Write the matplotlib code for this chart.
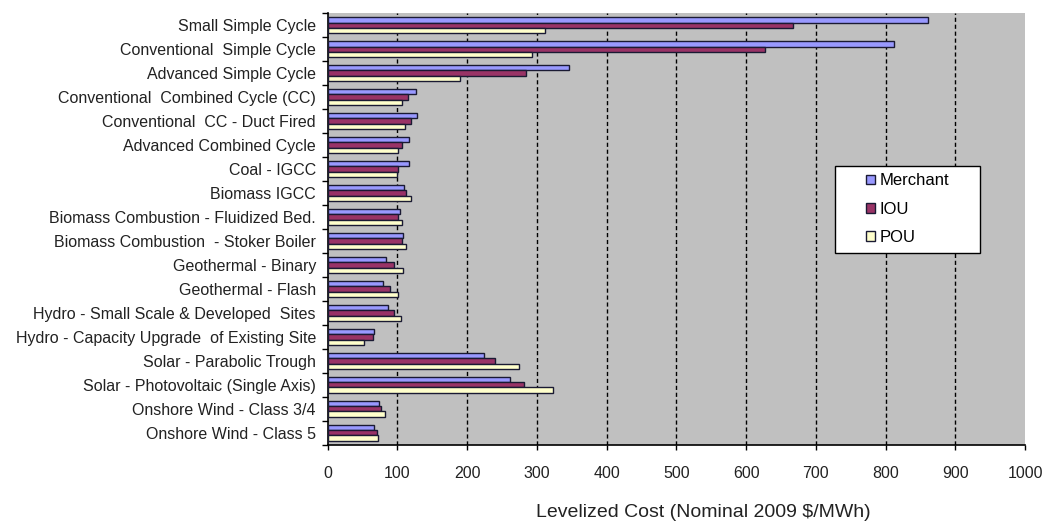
import matplotlib.pyplot as plt
import numpy as np

plt.rcParams['font.family'] = ['Liberation Sans', 'DejaVu Sans']

technologies = [
    'Small Simple Cycle',
    'Conventional  Simple Cycle',
    'Advanced Simple Cycle',
    'Conventional  Combined Cycle (CC)',
    'Conventional  CC - Duct Fired',
    'Advanced Combined Cycle',
    'Coal - IGCC',
    'Biomass IGCC',
    'Biomass Combustion - Fluidized Bed.',
    'Biomass Combustion  - Stoker Boiler',
    'Geothermal - Binary',
    'Geothermal - Flash',
    'Hydro - Small Scale & Developed  Sites',
    'Hydro - Capacity Upgrade  of Existing Site',
    'Solar - Parabolic Trough',
    'Solar - Photovoltaic (Single Axis)',
    'Onshore Wind - Class 3/4',
    'Onshore Wind - Class 5',
]

# levelized cost, nominal 2009 $/MWh
merchant = [861, 812, 346, 126, 128, 116, 117, 110, 104, 108, 83, 80, 87, 67, 224, 262, 73, 67]
iou = [667, 627, 284, 115, 119, 106, 101, 112, 101, 107, 95, 89, 95, 65, 240, 281, 77, 70]
pou = [311, 293, 189, 106, 111, 101, 100, 119, 107, 112, 108, 101, 105, 52, 274, 323, 82, 72]

series = [('Merchant', merchant, '#9999ff'),
          ('IOU', iou, '#993366'),
          ('POU', pou, '#ffffcc')]

fig = plt.figure(figsize=(10.47, 5.27), dpi=100)
ax = fig.add_axes([0.313, 0.156, 0.666, 0.819])
ax.set_facecolor('#c0c0c0')

y = np.arange(len(technologies))
h = 0.22
for i, (name, vals, color) in enumerate(series):
    ax.barh(y + (i - 1) * h, vals, height=h, color=color,
            edgecolor='#1a1a33', linewidth=1.0, label=name, zorder=3)

ax.set_xlim(0, 1000)
ax.set_ylim(len(technologies) - 0.5, -0.5)
ax.set_xticks(np.arange(0, 1001, 100))
ax.set_yticks(y)
ax.set_yticklabels(technologies, fontsize=11.5, color='#222222')
ax.set_yticks(np.arange(-0.5, len(technologies), 1), minor=True)
ax.tick_params(axis='y', which='major', length=0, pad=8.5)
ax.tick_params(axis='y', which='minor', length=4, width=1, color='black')
ax.tick_params(axis='x', length=3.6, width=1, labelsize=11.5, pad=11.5,
               labelcolor='#222222')

for x in range(100, 1000, 100):
    ax.axvline(x, color='black', linestyle=(0, (3, 2)), linewidth=1.0, zorder=1)

for side in ['top', 'right']:
    ax.spines[side].set_visible(False)
ax.spines['left'].set_linewidth(1.2)
ax.spines['bottom'].set_linewidth(1.2)

ax.set_xlabel('Levelized Cost (Nominal 2009 $/MWh)', fontsize=14,
              color='#222222')
ax.xaxis.set_label_coords(0.538, -0.157)
ax.xaxis.label.set_va('center')

leg = ax.legend(loc='upper left', bbox_to_anchor=(0.727, 0.435, 0.208, 0.211),
                mode='expand', fontsize=12, frameon=True, fancybox=False,
                framealpha=1, edgecolor='black', borderpad=0.45,
                labelspacing=0.8, handlelength=2.0, handleheight=0.7,
                handletextpad=0.25, borderaxespad=0)
leg.get_frame().set_linewidth(1.0)
leg.get_frame().set_facecolor('white')
for p in leg.get_patches():
    p.set_x(17)
    p.set_y(0.7)
    p.set_height(7)
    p.set_width(7)

fig.savefig('out.png', dpi=100)
